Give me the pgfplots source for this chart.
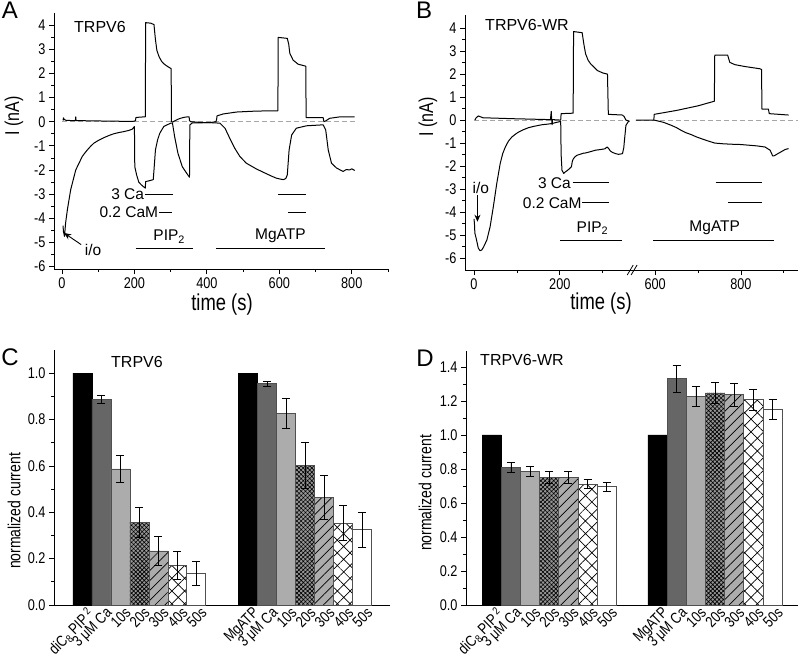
\documentclass[border=0pt]{standalone}
\usepackage{pgfplots}
\pgfplotsset{compat=1.18}
\usepackage{fontspec}
\setmainfont{Liberation Sans}
\newfontfamily\tickfont[FakeStretch=0.82]{Liberation Sans}
\newfontfamily\labfont[FakeStretch=0.8]{Liberation Sans}
\usetikzlibrary{patterns,patterns.meta,arrows.meta}

\definecolor{bardark}{RGB}{102,102,102}
\definecolor{barlight}{RGB}{172,172,172}
\definecolor{barmid}{RGB}{150,150,150}
\definecolor{baredge}{RGB}{80,80,80}

\newcommand\ticksz{\tickfont\fontsize{15.5}{17}\selectfont}
\newcommand\annot{\fontsize{15.5}{17}\selectfont}
\newcommand\ttl{\fontsize{16}{18}\selectfont}
\newcommand\panelfont{\fontsize{24}{26}\selectfont}

\pgfplotsset{
  panel/.style={
    scale only axis, anchor=south west,
    axis x line*=bottom, axis y line*=left,
    axis line style={line width=0.8pt},
    tick align=outside,
    every tick/.style={line width=0.8pt, black},
    major tick length=5pt, minor tick length=3pt,
    tick label style={font=\ticksz},
    /pgf/number format/assume math mode=true,
    clip=false,
  },
  trace/.style={black, line width=1pt, line join=round},
  zero/.style={gray!70, line width=0.9pt, dash pattern=on 5pt off 3pt},
  mark line/.style={black, line width=1pt},
  barbase/.style={ybar, bar width=1, bar shift=0pt, draw=baredge, line width=0.8pt,
    /pgfplots/error bars/y dir=both, /pgfplots/error bars/y explicit,
    /pgfplots/error bars/error bar style={black, line width=0.8pt},
    /pgfplots/error bars/error mark options={rotate=90, mark size=4pt, black, line width=0.8pt}},
  p20/.style={fill=barmid, postaction={pattern color=black, pattern={Hatch[angle=45,distance=3pt,line width=0.6pt]}}},
  p30/.style={fill=barlight, postaction={pattern color=black, pattern={Lines[angle=45,distance=7pt,line width=0.7pt]}}},
  p40/.style={fill=white, postaction={pattern color=black, pattern={Hatch[angle=45,distance=9pt,line width=0.7pt]}}},
  barpanel/.style={panel, xtick style={draw=none},
    xticklabel style={rotate=45, anchor=north east, xshift=6pt, yshift=1pt,
      font=\tickfont\fontsize{15.5}{16}\selectfont, inner sep=0.5pt},
    yticklabel style={/pgf/number format/.cd, fixed, fixed zerofill, precision=1},
    minor y tick num=1},
}

\begin{document}
\begin{tikzpicture}
\useasboundingbox (0pt,0pt) rectangle (800pt,-661pt);

% ---------------- A ----------------
\begin{axis}[panel, at={(54pt,-269pt)}, width=334pt, height=256pt,
  xmin=-22, xmax=900, ymin=-6.1, ymax=4.5,
  xtick={0,200,400,600,800}, minor xtick={100,300,500,700,900},
  ytick={-6,-5,...,4}, minor y tick num=1]
\addplot[zero] coordinates {(0,0) (810,0)};
\addplot[trace] coordinates {
(3,0.05) (4,0.16) (6,0.1) (10,0.06) (20,0.05) (37,0.04) (38,0.2) (39,0.04) (60,0.04)
(100,0.03) (150,0.02) (190,0.01) (200,0.02) (203,0.05) (204,0.17) (215,0.19) (230,0.2)
(231,4.1) (245,4.08) (254,4.02) (258,3.4) (262,2.95) (268,2.69) (275,2.5) (281,2.4)
(290,2.3) (300,2.21) (301.5,2.2) (302,0.02) (305,-0.02) (312,0.04) (320,0.1) (327,0.14)
(337,0.18) (346,0.2) (351,0.2) (352,0.05) (355,0.0) (380,-0.03) (408,-0.04) (425,0.0)
(427,0.1) (428,0.24) (445,0.32) (482,0.4) (537,0.44) (596,0.45) (597,3.49) (622,3.45)
(626,3.2) (629,2.83) (638,2.55) (652,2.38) (670,2.31) (673,2.3) (674,0.17) (721,0.17)
(723,0.0) (728,0.03) (739,0.14) (767,0.2) (808,0.2)};
\addplot[trace] coordinates {
(3,-4.3) (4,-4.54) (7,-4.75) (10,-4.2) (15,-3.64) (24,-2.82) (38,-2.0) (47,-1.72) (56,-1.44)
(63,-1.3) (70,-1.17) (79,-1.02) (88,-0.89) (100,-0.78) (116,-0.66) (130,-0.57) (143,-0.5)
(157,-0.45) (171,-0.41) (185,-0.36) (194,-0.31) (199,-0.22) (200,-0.2) (201,-1.86)
(206,-2.2) (212,-2.5) (218,-2.6) (224,-2.68) (230,-2.75) (231,-2.48) (240,-2.45) (252,-2.4)
(255,-1.8) (258,-1.17) (264,-0.75) (270,-0.48) (281,-0.2) (300,-0.06) (305,-0.06)
(311,-0.62) (320,-1.3) (332,-1.86) (344,-2.13) (352,-2.3) (353,-0.13) (360,-0.05)
(408,-0.04) (436,-0.06) (450,-0.27) (463,-0.68) (477,-1.1) (491,-1.44) (509,-1.72)
(523,-1.84) (537,-1.96) (551,-2.06) (565,-2.16) (578,-2.25) (592,-2.34) (604,-2.38)
(611,-2.4) (618,-2.35) (622,-2.2) (627,-1.17) (634,-0.55) (647,-0.27) (675,-0.17)
(721,-0.13) (728,-0.34) (735,-1.17) (744,-1.72) (758,-1.92) (776,-2.06) (785,-1.98)
(794,-2.0) (800,-1.95) (808,-2.02)};
% solution bars
\addplot[mark line] coordinates {(228,-3.0) (307,-3.0)};
\addplot[mark line] coordinates {(597,-3.0) (675,-3.0)};
\addplot[mark line] coordinates {(268,-3.74) (304,-3.74)};
\addplot[mark line] coordinates {(624,-3.74) (675,-3.74)};
\addplot[mark line] coordinates {(203,-5.26) (362,-5.26)};
\addplot[mark line] coordinates {(425,-5.26) (726,-5.26)};
\node[anchor=east, inner sep=0pt, font=\annot] at (axis cs:227,-3.0) {3 Ca};
\node[anchor=east, inner sep=0pt, font=\annot] at (axis cs:266,-3.74) {0.2 CaM};
\node[font=\annot] at (axis cs:296,-4.75) {PIP\textsubscript{2}};
\node[font=\annot] at (axis cs:603,-4.72) {MgATP};
\node[font=\annot] at (axis cs:86,-5.3) {i/o};
\draw[-{Stealth[length=7pt,width=6pt]}, line width=0.9pt] (axis cs:53,-5.09) -- (axis cs:6,-4.61);
\end{axis}

% ---------------- B ----------------
\begin{axis}[panel, at={(465pt,-270pt)}, width=333pt, height=255pt,
  xmin=-21, xmax=755, ymin=-6.52, ymax=4.57,
  xtick={0,200,422,622}, xticklabels={0,200,600,800},
  minor xtick={100,300,522,722},
  ytick={-6,-5,...,4}, minor y tick num=1]
\addplot[zero] coordinates {(0,0) (362,0)};
\addplot[zero] coordinates {(377,0) (755,0)};
\addplot[trace] coordinates {
(2,0.0) (5,0.1) (10,0.18) (21,0.1) (40,0.09) (57,0.08) (90,0.06) (135,0.04) (178,0.02)
(180,0.38) (181,0.02) (182,-0.2) (183,0.02) (202,0.0) (203,0.28) (231,0.3) (232,3.85)
(252,3.8) (256,3.3) (260,2.88) (266,2.6) (272,2.44) (288,2.15) (300,2.05) (311,2.0)
(313,0.25) (346,0.22) (350,0.15) (354,0.0) (362,-0.05)};
\addplot[trace] coordinates {
(0,-4.3) (1,-4.5) (2,-4.92) (5,-5.14) (10,-5.57) (14,-5.68) (18,-5.65) (22,-5.53)
(30,-5.21) (37.5,-4.64) (45,-3.77) (53,-2.76) (61,-1.89) (67,-1.45) (73,-1.17) (80,-0.92)
(88,-0.74) (96,-0.62) (104,-0.52) (115,-0.42) (127,-0.33) (140,-0.27) (159,-0.2)
(170,-0.18) (182,-0.15) (192,-0.1) (202,-0.06) (203,-1.5) (205,-2.18) (209,-2.32)
(213,-2.25) (217,-2.2) (222,-2.12) (227,-2.03) (229,-1.8) (231,-1.7) (235,-1.6)
(240,-1.53) (245,-1.5) (250,-1.47) (255,-1.44) (260,-1.43) (270,-1.38) (283,-1.31)
(295,-1.28) (305,-1.25) (310,-1.17) (313,-1.22) (318,-1.35) (322,-1.4) (330,-1.46)
(337,-1.49) (346,-1.46) (349,-1.2) (351,-0.8) (354,-0.23) (359,-0.08) (362,-0.04)};
% right segment, real time shifted across the axis break
\addplot[trace] table[x expr=\thisrowno{0}-178, y index=1] {
555 0.0
597 0.0
598 0.25
650 0.42
700 0.62
738 0.82
739 2.83
769 2.83
774 2.51
786 2.41
809 2.33
845 2.23
848 2.2
849 0.48
864 0.48
866 0.28
911 0.22
};
\addplot[trace] table[x expr=\thisrowno{0}-178, y index=1] {
598 0.0
620 -0.1
638 -0.23
650 -0.33
661 -0.45
672 -0.55
684 -0.63
696 -0.73
708 -0.81
722 -0.9
739 -1.0
758 -1.03
778 -1.05
797 -1.06
817 -1.09
836 -1.12
856 -1.17
868 -1.31
874 -1.56
878 -1.55
886 -1.46
903 -1.28
911 -1.24
};
\addplot[mark line] coordinates {(230,-2.73) (315,-2.73)};
\addplot[mark line] coordinates {(252,-3.6) (315,-3.6)};
\addplot[mark line] coordinates {(200,-5.22) (346,-5.22)};
\addplot[mark line] table[x expr=\thisrowno{0}-178, y index=1] {
741 -2.73
849 -2.73
};
\addplot[mark line] table[x expr=\thisrowno{0}-178, y index=1] {
770 -3.6
849 -3.6
};
\addplot[mark line] table[x expr=\thisrowno{0}-178, y index=1] {
596 -5.22
878 -5.22
};
\node[anchor=east, inner sep=0pt, font=\annot] at (axis cs:226,-2.73) {3 Ca};
\node[anchor=east, inner sep=0pt, font=\annot] at (axis cs:251,-3.6) {0.2 CaM};
\node[font=\annot] at (axis cs:276,-4.7) {PIP\textsubscript{2}};
\node[font=\annot] at (axis cs:561,-4.68) {MgATP};
\node[font=\annot] at (axis cs:16,-2.94) {i/o};
\draw[-{Stealth[length=7pt,width=6pt]}, line width=0.9pt] (axis cs:8,-3.26) -- (axis cs:8,-4.42);
\draw[line width=0.8pt] ([xshift=-3pt,yshift=-5pt]axis cs:364,-6.52) -- ([xshift=3pt,yshift=5pt]axis cs:364,-6.52);
\draw[line width=0.8pt] ([xshift=-3pt,yshift=-5pt]axis cs:373,-6.52) -- ([xshift=3pt,yshift=5pt]axis cs:373,-6.52);
\end{axis}

% ---------------- C ----------------
\begin{axis}[barpanel, at={(54pt,-605pt)}, width=336pt, height=255pt,
  xmin=0, xmax=17.7, ymin=0, ymax=1.1, ytick={0,0.2,...,1.0},
  xtick={1.5,2.5,3.5,4.5,5.5,6.5,7.5,10.24,11.24,12.24,13.24,14.24,15.24,16.24},
  xticklabels={diC\textsubscript{8} PIP\,\textsuperscript{2},3 μM Ca,10s,20s,30s,40s,50s,MgATP,3 μM Ca,10s,20s,30s,40s,50s}]
\addplot[barbase, fill=black, draw=black] coordinates {(1.5,1.0) (10.24,1.0)};
\addplot[barbase, fill=bardark] coordinates {(2.5,0.888) +- (0,0.018) (11.24,0.954) +- (0,0.011)};
\addplot[barbase, fill=barlight] coordinates {(3.5,0.587) +- (0,0.059) (12.24,0.827) +- (0,0.066)};
\addplot[barbase, p20] coordinates {(4.5,0.358) +- (0,0.065) (13.24,0.603) +- (0,0.1)};
\addplot[barbase, p30] coordinates {(5.5,0.233) +- (0,0.062) (14.24,0.465) +- (0,0.094)};
\addplot[barbase, p40] coordinates {(6.5,0.171) +- (0,0.06) (15.24,0.353) +- (0,0.076)};
\addplot[barbase, fill=white] coordinates {(7.5,0.135) +- (0,0.052) (16.24,0.324) +- (0,0.075)};
\end{axis}

% ---------------- D ----------------
\begin{axis}[barpanel, at={(466pt,-605pt)}, width=332pt, height=254pt,
  xmin=0, xmax=17.3, ymin=0, ymax=1.494, ytick={0,0.2,...,1.4},
  xtick={1.34,2.34,3.34,4.34,5.34,6.34,7.34,9.98,10.98,11.98,12.98,13.98,14.98,15.98},
  xticklabels={diC\textsubscript{8} PIP\,\textsuperscript{2},3 μM Ca,10s,20s,30s,40s,50s,MgATP,3 μM Ca,10s,20s,30s,40s,50s}]
\addplot[barbase, fill=black, draw=black] coordinates {(1.34,1.0) (9.98,1.0)};
\addplot[barbase, fill=bardark] coordinates {(2.34,0.811) +- (0,0.03) (10.98,1.331) +- (0,0.08)};
\addplot[barbase, fill=barlight] coordinates {(3.34,0.787) +- (0,0.031) (11.98,1.227) +- (0,0.059)};
\addplot[barbase, p20] coordinates {(4.34,0.752) +- (0,0.035) (12.98,1.247) +- (0,0.063)};
\addplot[barbase, p30] coordinates {(5.34,0.752) +- (0,0.035) (13.98,1.237) +- (0,0.069)};
\addplot[barbase, p40] coordinates {(6.34,0.711) +- (0,0.027) (14.98,1.207) +- (0,0.064)};
\addplot[barbase, fill=white] coordinates {(7.34,0.697) +- (0,0.027) (15.98,1.153) +- (0,0.059)};
\end{axis}

% ---------------- labels ----------------
\node[font=\panelfont] at (10pt,-10pt) {A};
\node[font=\panelfont] at (424pt,-10pt) {B};
\node[font=\panelfont] at (10pt,-357pt) {C};
\node[font=\panelfont] at (425pt,-358pt) {D};
\node[font=\ttl] at (100pt,-27pt) {TRPV6};
\node[font=\ttl] at (527pt,-25pt) {TRPV6-WR};
\node[font=\ttl] at (137pt,-362pt) {TRPV6};
\node[font=\ttl] at (522pt,-360pt) {TRPV6-WR};
\node[rotate=90, font=\labfont\fontsize{20}{22}\selectfont] at (14pt,-116pt) {I (nA)};
\node[rotate=90, font=\labfont\fontsize{20}{22}\selectfont] at (428pt,-117pt) {I (nA)};
\node[font=\labfont\fontsize{23}{25}\selectfont] at (222pt,-305pt) {time (s)};
\node[font=\labfont\fontsize{23}{25}\selectfont] at (601pt,-304pt) {time (s)};
\node[rotate=90, font=\labfont\fontsize{17.5}{19}\selectfont] at (14pt,-511pt) {normalized current};
\node[rotate=90, font=\labfont\fontsize{17.5}{19}\selectfont] at (425pt,-493pt) {normalized current};
\end{tikzpicture}
\end{document}
